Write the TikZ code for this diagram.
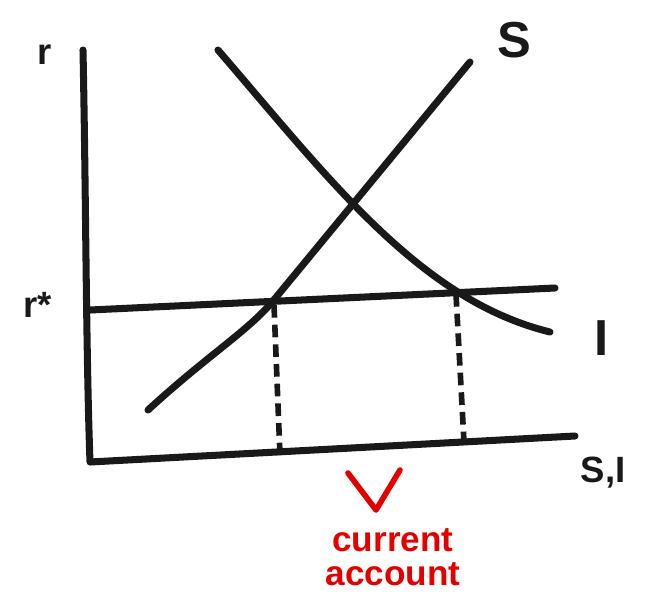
\documentclass[tikz,border=0pt]{standalone}
\usepackage{fontspec}
\setmainfont{Liberation Sans}
\begin{document}
\begin{tikzpicture}[x=0.025cm,y=-0.025cm,
  marker/.style={line width=5pt,line cap=round,line join=round,color=black!90},
  dashmark/.style={line width=4pt,dash pattern=on 9pt off 5pt,color=black!90},
  lbl/.style={font=\bfseries\fontsize{26}{28}\selectfont,text=black!90},
  biglbl/.style={font=\bfseries\fontsize{36}{38}\selectfont,text=black!90},
  redlbl/.style={font=\bfseries\fontsize{25}{24}\selectfont,text=red!90!black,align=center}]
\useasboundingbox (0,0) rectangle (647,595);
% axes
\coordinate (top) at (83,50);
\coordinate (origin) at (90,462);
\coordinate (xend) at (575,436);
\draw[marker] (top) .. controls (86,200) and (86,350) .. (origin) -- (xend);
% r* line
\coordinate (rl) at (90,310);
\coordinate (rr) at (555,288);
\draw[marker] (rl) -- (rr);
% S curve
\coordinate (s0) at (148,410);
\coordinate (sm) at (273,301);
\coordinate (s1) at (470,62);
\draw[marker] (s0) .. controls (208,355) and (248,331) .. (sm) -- (s1);
% I curve
\coordinate (i0) at (218,50);
\coordinate (i1) at (550,332);
\draw[marker] (i0) .. controls (330,180) and (420,300) .. (i1);
% dashed lines
\coordinate (d1a) at (274,305);
\coordinate (d1b) at (280,455);
\coordinate (d2a) at (456,294);
\coordinate (d2b) at (464,442);
\draw[dashmark] (d1a) -- (d1b);
\draw[dashmark] (d2a) -- (d2b);
% labels
\node[lbl] (r) at (45,55) {r};
\node[lbl] (rstar) at (38,305) {r*};
\node[biglbl] (S) at (514,40) {S};
\node[biglbl] (I) at (602,338) {I};
\node[lbl] (SI) at (603,473) {S,I};
% red mark and text
\coordinate (v0) at (348,473);
\coordinate (v1) at (376,510);
\coordinate (v2) at (400,470);
\draw[line width=4pt,color=red!90!black,line cap=round,line join=round] (v0) -- (v1) -- (v2);
\node[redlbl] (ca) at (393,557) {current\\account};
\end{tikzpicture}
\end{document}
